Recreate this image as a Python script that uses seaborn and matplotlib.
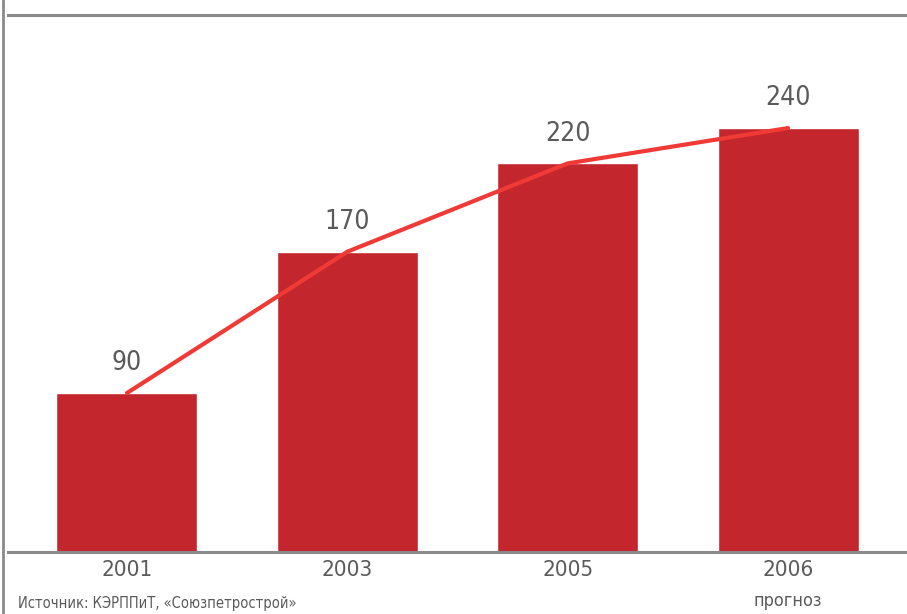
import matplotlib
matplotlib.use("Agg")
import matplotlib.pyplot as plt
import seaborn as sns
import pandas as pd

years = ["2001", "2003", "2005", "2006"]
values = [90, 170, 220, 240]
forecast_note = "прогноз"
source = "Источник: КЭРППиТ, «Союзпетрострой»"

BAR_COLOR = "#c4262d"
LINE_COLOR = "#f03a36"
TEXT_COLOR = "#5a5a5a"
RULE_COLOR = "#8a8a8a"

sns.set_style("white")
plt.rcParams["font.family"] = ["DejaVu Sans"]
plt.rcParams["font.stretch"] = "condensed"

df = pd.DataFrame({"year": years, "value": values})

fig = plt.figure(figsize=(9.07, 6.14), dpi=100)
ax = fig.add_axes([8 / 907, 62 / 614, 1 - 8 / 907, (552 - 15) / 614])

sns.barplot(data=df, x="year", y="value", color=BAR_COLOR, width=0.64,
            saturation=1, ax=ax)
sns.lineplot(data=df, x="year", y="value", color=LINE_COLOR, linewidth=3,
             ax=ax)

for i, v in enumerate(values):
    ax.annotate(str(v), (i, v), xytext=(0, 12), textcoords="offset points",
                ha="center", va="bottom", fontsize=19, color=TEXT_COLOR)

ax.set_xlim(-0.54, 3.54)
ax.set_ylim(0, 304)
ax.set_xlabel("")
ax.set_ylabel("")
ax.set_yticks([])
ax.tick_params(axis="x", length=0, pad=6, labelsize=16, labelcolor=TEXT_COLOR)

for side in ["left", "right"]:
    ax.spines[side].set_visible(False)
for side in ["top", "bottom"]:
    ax.spines[side].set_color(RULE_COLOR)
    ax.spines[side].set_linewidth(2.2)

# forecast note under the last year
ax.annotate(forecast_note, (3, 0), xytext=(0, -35), textcoords="offset points",
            ha="center", va="center", fontsize=13, color=TEXT_COLOR,
            annotation_clip=False)

# left frame rule over full height
fig.add_artist(plt.Line2D([3 / 907, 3 / 907], [0, 1], color=RULE_COLOR,
                          linewidth=2, transform=fig.transFigure))

fig.text(18 / 907, 3 / 614, source, fontsize=10.5, color=TEXT_COLOR,
         ha="left", va="bottom")

fig.savefig("out.png", dpi=100)
